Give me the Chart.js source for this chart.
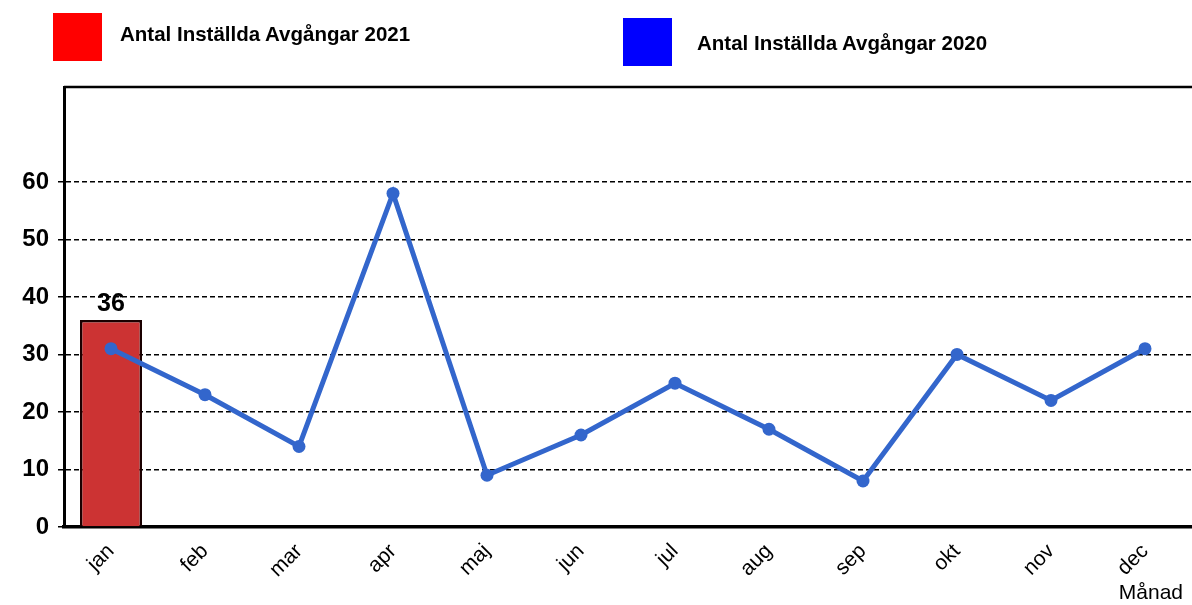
<!DOCTYPE html>
<html>
<head>
<meta charset="utf-8">
<script src="https://cdn.jsdelivr.net/npm/chart.js@4/dist/chart.umd.min.js"></script>
<style>
  body { margin: 0; background: #fff; font-family: Arial, "Liberation Sans", sans-serif; }
  #wrap { position: relative; width: 1192px; height: 605px; overflow: hidden; }
  .legend-box { position: absolute; width: 49px; height: 48px; }
  .legend-text { position: absolute; font-weight: bold; font-size: 20.5px; color: #000; }
</style>
</head>
<body>
<div id="wrap">
  <canvas id="delayChart" width="1192" height="605"></canvas>
  <div class="legend-box" style="left:53px;top:13px;background:#ff0000"></div>
  <div class="legend-text" style="left:120px;top:22px">Antal Inställda Avgångar 2021</div>
  <div class="legend-box" style="left:623px;top:18px;background:#0000ff"></div>
  <div class="legend-text" style="left:697px;top:31px">Antal Inställda Avgångar 2020</div>
</div>
<script>
const months = ['jan', 'feb', 'mar', 'apr', 'maj', 'jun', 'jul', 'aug', 'sep', 'okt', 'nov', 'dec'];
const values2021 = [36, null, null, null, null, null, null, null, null, null, null, null];
const values2020 = [31, 23, 14, 58, 9, 16, 25, 17, 8, 30, 22, 31];
const yTicks = [0, 10, 20, 30, 40, 50, 60];
const xTitle = 'Månad';

// top border of the plot, value label on the bar, axis title
const extras = {
  id: 'extras',
  afterDatasetsDraw(chart) {
    const c = chart.ctx;
    const area = chart.chartArea;
    c.save();
    c.strokeStyle = '#000';
    c.lineWidth = 2.5;
    c.beginPath();
    c.moveTo(area.left, area.top);
    c.lineTo(area.right, area.top);
    c.stroke();

    const meta = chart.getDatasetMeta(0);
    c.fillStyle = '#000';
    c.font = 'bold 25px Arial, "Liberation Sans"';
    c.textAlign = 'center';
    c.textBaseline = 'bottom';
    meta.data.forEach((bar, i) => {
      if (values2021[i] == null) return;
      c.fillText(values2021[i], bar.x, bar.y - 3);
    });

    // "Månad" sits a little left of the right edge
    c.font = '21px Arial, "Liberation Sans"';
    c.textAlign = 'right';
    c.textBaseline = 'middle';
    c.fillText(xTitle, chart.width - 9, 593);
    c.restore();
  }
};

const ctx = document.getElementById('delayChart').getContext('2d');
const delayChart = new Chart(ctx, {
  type: 'bar',
  data: {
    labels: months,
    datasets: [{
      type: 'bar',
      label: 'Antal Inställda Avgångar 2021',
      data: values2021,
      backgroundColor: '#cc3333',
      borderColor: '#1a0000',
      borderWidth: 2.5,
      categoryPercentage: 1,
      barPercentage: 0.66,
      order: 2
    }, {
      type: 'line',
      label: 'Antal Inställda Avgångar 2020',
      data: values2020,
      borderColor: '#3366cc',
      backgroundColor: '#3366cc',
      borderWidth: 5,
      pointRadius: 6.5,
      pointBackgroundColor: '#3366cc',
      pointBorderWidth: 0,
      tension: 0,
      fill: false,
      order: 1
    }]
  },
  options: {
    responsive: false,
    animation: false,
    layout: { autoPadding: false, padding: { top: 87, right: -3, left: 0, bottom: 0 } },
    plugins: {
      legend: { display: false },
      tooltip: { enabled: false }
    },
    scales: {
      y: {
        min: 0,
        max: 76.5,
        afterBuildTicks: axis => {
          axis.ticks = yTicks.map(v => ({ value: v }));
        },
        afterFit: axis => { axis.width = 64; },
        ticks: {
          color: '#000',
          padding: 9,
          font: { family: 'Arial, "Liberation Sans"', size: 24, weight: 'bold' }
        },
        grid: {
          color: '#000',
          lineWidth: 1.5,
          tickLength: 6,
          tickBorderDash: [],
        },
        border: { display: true, color: '#000', width: 3, dash: [5, 3] }
      },
      x: {
        afterFit: axis => {
          axis.height = 78;
          axis.paddingLeft = 0;
          axis.paddingRight = 0;
        },
        ticks: {
          color: '#000',
          maxRotation: 45,
          minRotation: 45,
          padding: 4,
          font: { family: 'Arial, "Liberation Sans"', size: 21 }
        },
        grid: { display: false },
        border: { display: true, color: '#000', width: 3.5 }
      }
    }
  },
  plugins: [extras]
});
</script>
</body>
</html>
